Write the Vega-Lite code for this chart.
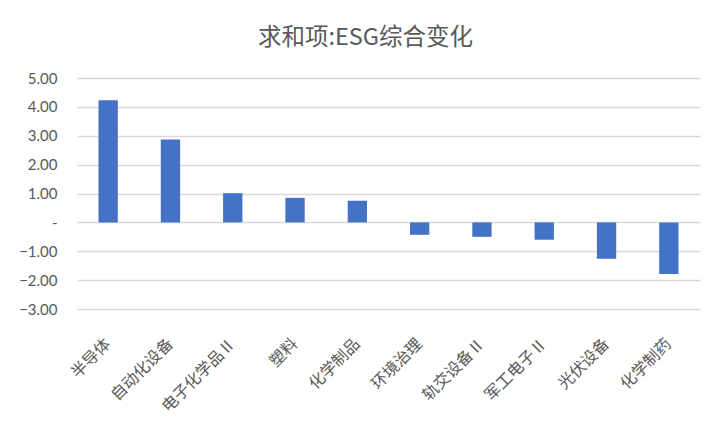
{
  "$schema": "https://vega.github.io/schema/vega-lite/v6.json",
  "autosize": "none",
  "width": 623,
  "height": 231,
  "padding": {"left": 77, "top": 78, "right": 22, "bottom": 125},
  "background": "white",
  "title": {
    "text": "求和项:ESG综合变化",
    "font": "Noto Sans CJK SC",
    "fontSize": 23.5,
    "fontWeight": "normal",
    "color": "#595959",
    "anchor": "middle",
    "frame": "group",
    "dx": -23,
    "offset": 22
  },
  "data": {
    "values": [
      {"industry": "半导体", "change": 4.23},
      {"industry": "自动化设备", "change": 2.87},
      {"industry": "电子化学品Ⅱ", "change": 1.01},
      {"industry": "塑料", "change": 0.85},
      {"industry": "化学制品", "change": 0.75},
      {"industry": "环境治理", "change": -0.43},
      {"industry": "轨交设备Ⅱ", "change": -0.5},
      {"industry": "军工电子Ⅱ", "change": -0.6},
      {"industry": "光伏设备", "change": -1.26},
      {"industry": "化学制药", "change": -1.79}
    ]
  },
  "mark": {"type": "bar", "color": "#4472C4"},
  "encoding": {
    "x": {
      "field": "industry",
      "type": "nominal",
      "sort": null,
      "scale": {"paddingInner": 0.69, "paddingOuter": 0.345},
      "axis": {
        "title": null,
        "domain": false,
        "ticks": false,
        "labelAngle": -45,
        "labelAlign": "right",
        "labelBaseline": "middle",
        "labelPadding": 32,
        "labelFont": "Noto Sans CJK SC",
        "labelFontSize": 16,
        "labelColor": "#595959"
      }
    },
    "y": {
      "field": "change",
      "type": "quantitative",
      "scale": {"domain": [-3, 5], "nice": false, "zero": true},
      "axis": {
        "title": null,
        "values": [-3, -2, -1, 0, 1, 2, 3, 4, 5],
        "labelExpr": "datum.value == 0 ? '-' : format(datum.value, '.2f')",
        "domain": false,
        "ticks": false,
        "labelPadding": 20,
        "labelFont": "Lato",
        "labelFontSize": 15,
        "labelColor": "#595959",
        "gridColor": "#d9d9d9",
        "gridWidth": 1.3
      }
    }
  },
  "config": {
    "view": {"stroke": null}
  }
}
